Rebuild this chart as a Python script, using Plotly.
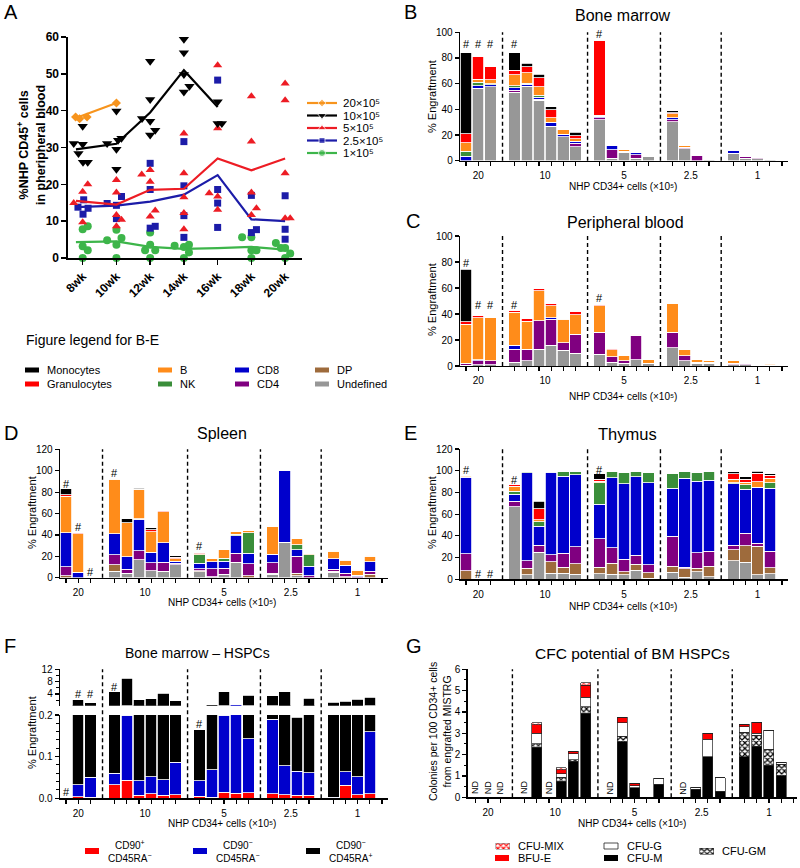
import plotly.graph_objects as go

W, H = 800, 868
FONT = "Liberation Sans, Arial, Helvetica, sans-serif"

# ======================= DATA =======================
# ---- Panel A: %NHP CD45+ in peripheral blood ----
A_WEEKS = [8, 10, 12, 14, 16, 18, 20]
A_WEEK_LABELS = ["8wk", "10wk", "12wk", "14wk", "16wk", "18wk", "20wk"]
A_MEAN_X = [7.6, 10, 12, 14, 16, 18, 20]

A20_WEEK = [8, 8, 8, 10]
A20_VAL = [38.3, 37.8, 38.3, 42.1]
A20_MEAN = [38.0, 42.1]

A10_WEEK = [8] * 6 + [10] * 6 + [12] * 6 + [14] * 5 + [16] * 3
A10_VAL = [31.1, 28.4, 35.8, 30.9, 26.0, 26.0,
           31.1, 39.9, 29.5, 24.1, 32.0, 32.5,
           37.9, 53.4, 43.0, 37.1, 33.4, 34.7,
           59.4, 55.7, 49.8, 45.1, 46.6,
           42.4, 36.5, 36.5]
A10_MEAN = [29.5, 31.0, 39.5, 51.0, 41.0]

A5_WEEK = [8] * 4 + [10] * 5 + [12] * 5 + [14] * 5 + [16] * 5 + [18] * 5 + [20] * 5
A5_VAL = [14.9, 18.0, 20.0, 9.7,
          21.2, 17.8, 11.7, 10.4, 8.6,
          22.7, 23.9, 20.7, 12.9, 11.3,
          33.8, 23.0, 16.5, 12.2, 7.8,
          52.3, 35.2, 17.6, 16.7, 13.1,
          43.9, 31.6, 17.8, 13.5, 11.7,
          47.4, 42.8, 23.0, 10.8, 10.8]
A5_MEAN = [15.5, 14.5, 18.5, 18.8, 27.0, 23.8, 27.0]

A25_WEEK = [8] * 4 + [10] * 4 + [12] * 4 + [14] * 4 + [16] * 4 + [18] * 3 + [20] * 3
A25_VAL = [13.8, 15.8, 11.9, 13.5,
           14.8, 14.3, 16.7, 10.7,
           25.7, 18.6, 8.1, 8.6,
           31.6, 19.6, 11.5, 5.6,
           48.3, 18.6, 14.9, 8.3,
           17.0, 6.9, 7.7,
           16.9, 7.8, 5.1]
A25_MEAN = [13.8, 14.2, 15.3, 17.2, 22.5, 10.5, 10.0]

A1_WEEK = [8] * 5 + [10] * 5 + [12] * 5 + [14] * 5 + [18] * 5 + [20] * 5
A1_VAL = [7.8, 8.6, 3.2, 2.1, 0.0,
          4.8, 7.7, 5.4, 3.6, 0.0,
          6.9, 3.6, 2.1, 2.1, 0.0,
          3.3, 3.0, 3.6, 1.5, 0.0,
          5.6, 5.6, 2.1, 2.1, 0.0,
          4.1, 2.7, 2.7, 1.2, 0.0]
A1_MEAN = [4.3, 4.5, 3.0, 2.5, 2.7, 3.0, 2.3]

# horizontal scatter (style, in weeks) of the dots around each time point
A20_JIT = [-0.42, -0.18, 0.26, 0.0]
A10_JIT = [-0.53, -0.25, 0, 0, 0.02, 0.3, -0.55, 0, 0, 0, 0.1, 0.3,
           -0.48, 0, 0, 0, 0, 0.3, 0, 0, 0, 0, 0.33, 0, 0, 0.25]
A5_JIT = [-0.53, 0, 0.3, 0, 0, 0, 0, 0.3, 0, -0.5, 0, 0, 0.3, 0,
          0, 0, 0, 0, 0, 0, 0, -0.5, 0, 0, 0, 0, 0, 0.3, 0, 0, 0, 0, 0, 0.3]
A25_JIT = [-0.28, 0.06, 0.02, 0.32, -0.55, 0, 0.3, 0, 0, 0, 0, 0.3,
           0, 0, 0, 0, 0, 0, 0, 0, 0, 0, 0.3, 0, 0, 0]
A1_JIT = [0, 0.3, 0, 0.3, 0, -0.55, 0, 0.3, 0, 0, 0, 0, -0.3, 0.3, 0,
          -0.55, 0, 0.3, 0.3, 0, -0.55, 0, 0, 0.3, 0, -0.55, -0.25, 0, 0.3, 0]

# ---- Shared bar-panel categories (slots) ----
BAR_SLOTS = [0, 1, 2, 4, 5, 6, 7, 8, 9, 11, 12, 13, 14, 15, 17, 18, 19, 20, 22, 23, 24, 25]
TICK_SLOTS = BAR_SLOTS + [26]
GROUP_POS = [1, 6.5, 13, 18.5, 24]
GROUP_LABELS = ["20", "10", "5", "2.5", "1"]
DIVIDERS = [3, 10, 16, 21]

CELL_TYPES = ["Undefined", "DP", "CD4", "CD8", "NK", "B", "Granulocytes", "Monocytes"]

# ---- Panel B: Bone marrow ----
B_U = [0, 56.5, 57.5, 53.5, 58, 47, 27, 18.5, 11, 32, 2, 6.5, 2, 3, 30.5, 9.5, 0, 1, 6, 2, 1.5, 1]
B_DP = [0] * 22
B_CD4 = [0, 0, 0, 1.5, 0, 1, 0, 0, 2.5, 1.5, 6.5, 1, 2.5, 0.5, 1.5, 1, 4, 0, 0, 1, 1, 0]
B_CD8 = [3.5, 2, 1.5, 2, 1.5, 1.5, 3, 2, 1.5, 1, 3.5, 0, 2, 0, 1.5, 0, 0, 0, 2, 0, 0, 0]
B_NK = [4, 2.5, 1, 1.5, 1, 1.5, 0, 0, 0, 0, 0, 0, 0, 0, 0, 0, 0, 0, 0, 0, 0, 0]
B_B = [6.5, 2.5, 3, 8.5, 8, 6.5, 3.5, 4, 2, 1, 1, 1.5, 0, 0, 3, 1.5, 0, 0, 0, 0, 0, 0]
B_GR = [7, 18, 10, 3.5, 4.5, 7, 6, 0, 2.5, 58.5, 0, 0, 0, 0, 1, 0, 0, 0, 0, 0, 0, 0]
B_MO = [63, 0, 0, 13.5, 3, 3, 2.5, 0, 2.5, 0, 0, 0, 0, 0, 1.5, 0, 0, 0, 0, 0, 0, 0]
B_HASH_X = [0, 1, 2, 4, 11]
B_HASH_Y = [91, 91, 91, 91, 99]

# ---- Panel C: Peripheral blood ----
C_U = [0.5, 1, 1, 3, 4, 13, 16, 12, 10, 9, 3, 2, 5, 2, 14, 4, 2, 2, 1, 1, 0.5, 0.5]
C_DP = [0] * 22
C_CD4 = [1.5, 3, 3, 10, 9, 22, 20, 6, 14.5, 17, 4, 2, 18.5, 0, 12, 4, 1, 1, 1, 1, 0.5, 0.5]
C_CD8 = [0, 1, 0, 3, 0, 0, 1, 0, 0, 0, 0, 0, 0, 0, 0, 0, 0, 0, 0, 0, 0, 0]
C_NK = [0] * 22
C_B = [30, 32, 33, 25.5, 21.5, 23, 9.5, 18, 15, 20.5, 5.5, 4, 1, 3, 22, 5, 2, 1, 2, 1, 0.5, 1]
C_GR = [2, 1.5, 0.5, 1.5, 2, 1.5, 1.5, 0.3, 2.5, 1, 1, 0, 0.5, 0, 0, 0, 0, 0, 0, 0, 0, 0]
C_MO = [40.5, 0, 0, 0, 0, 0, 0, 0, 0, 0, 0, 0, 0, 0, 0, 0, 0, 0, 0, 0, 0, 0]
C_HASH_X = [0, 1, 2, 4, 11]
C_HASH_Y = [79.5, 46.8, 46.8, 46.8, 52]

# ---- Panel D: Spleen ----
D_U = [0, 0, 0, 6, 4, 17, 6.5, 6, 12, 5.5, 1, 3, 14.5, 0, 3, 33, 2, 0, 5, 0, 0, 0]
D_DP = [2, 0, 0, 6, 0, 0, 0, 0, 0, 1, 0, 0, 0, 2, 1, 0, 2, 0, 1, 1, 0, 3]
D_CD4 = [8, 0, 0, 9.5, 4, 8, 7.5, 8.5, 1.5, 2, 7.5, 6, 8.5, 11, 10, 0, 16, 2, 2, 3, 1, 3]
D_CD8 = [32, 5, 0, 19.5, 11.5, 29.5, 10, 18, 2, 5, 6.5, 6.5, 16, 10, 8, 67, 6, 8.5, 9.5, 7.5, 1.5, 9]
D_NK = [0, 0, 0, 0, 0, 0.5, 0, 0, 0, 8, 0, 2.5, 1.5, 19, 0, 0, 5, 11, 0, 0, 0, 0]
D_B = [34, 36, 0, 51, 32, 27.5, 19, 29, 2, 1, 3, 8, 2.5, 2, 25.5, 0, 6, 1, 7, 5, 4.5, 5]
D_GR = [1.5, 1, 0, 1, 0, 0.5, 2, 1, 1.5, 1, 0, 0, 0, 0, 0.5, 0, 0, 0, 1, 0.5, 1, 1]
D_MO = [5.5, 0, 0, 0, 3.5, 1, 1.5, 0, 1.5, 0, 0, 0, 0, 0, 0, 0, 0, 0, 0, 0, 0, 0]
D_HASH_X = [0, 1, 2, 4, 11]
D_HASH_Y = [88, 47, 5.6, 98, 29.6]

# ---- Panel E: Thymus ----
E_U = [0, 0, 0, 67, 4, 25, 5.5, 5.5, 4.5, 5, 4.5, 4, 8.5, 1, 6.5, 2, 7, 2.5, 17, 15.5, 4, 5]
E_DP = [8, 0, 0, 0, 6, 0, 10.5, 5.5, 10, 6, 10.5, 3, 5.5, 5, 5.5, 7.5, 3, 9.5, 10, 15.5, 26.5, 5.5]
E_CD4 = [15.5, 0, 0, 5, 7, 6.5, 6.5, 13, 15.5, 26.5, 14, 11.5, 8, 7.5, 27.5, 1.5, 14.5, 14, 4.5, 11.5, 2.5, 15.5]
E_CD8 = [70.5, 0, 0, 6.5, 81, 17.5, 76, 71, 66.5, 31.5, 64.5, 69.5, 72.5, 75.5, 44.5, 82, 66, 65, 56.5, 40.5, 52, 58]
E_NK = [0.5, 0, 0, 2.5, 1.5, 4, 1, 4.5, 2.5, 20, 5.5, 10, 5, 9.5, 13, 6.5, 8, 8, 1, 4, 0, 5]
E_B = [1.5, 0, 0, 4.5, 0, 2, 0, 0, 0.5, 1.5, 0, 0, 0, 0, 0.5, 0, 0, 0, 3, 2.5, 5, 4]
E_GR = [0, 0, 0, 1.5, 0, 10, 0, 0, 0, 1.5, 0, 0, 0, 0, 0.5, 0, 1, 0, 5, 2.5, 7.5, 3]
E_MO = [0, 0, 0, 0, 0, 7, 0, 0, 0, 5, 0, 0, 0, 0, 0, 0, 0, 0, 2, 2.5, 2, 1]
E_HASH_X = [0, 1, 2, 4, 11]
E_HASH_Y = [100.3, 4.9, 4.9, 91.7, 100.3]

# ---- Panel F: Bone marrow HSPCs ----
F_RED = [0, 0.004, 0.003, 0.032, 0.043, 0.007, 0.011, 0.007, 0.009, 0.005, 0.002,
         0.014, 0.012, 0.013, 0.011, 0.009, 0.007, 0.007, 0, 0.031, 0.008, 0.011]
F_BLUE = [0, 0.029, 0.047, 0.028, 0.157, 0.035, 0.041, 0.038, 0.078, 0.037, 0.066,
          0.186, 0.588, 0.13, 0.179, 0.069, 0.058, 0.054, 0.002, 0.033, 0.044, 0.149]
F_BLACK = [0, 2.017, 1.14, 4.70, 8.88, 2.008, 2.44, 4.155, 1.643, 0.123, 0.432,
           4.56, 0, 3.427, 3.16, 4.68, 0.13, 2.54, 1.298, 1.536, 2.218, 2.74]
F_LOW_HASH_X = [0, 11]
F_LOW_HASH_Y = [0.016, 0.178]
F_UP_HASH_X = [1, 2, 4]
F_UP_HASH_Y = [4.0, 4.0, 6.4]

# ---- Panel G: CFC potential ----
G_M = [0, 0, 0, 0, 2.35, 0, 0.75, 1.7, 3.95, 0, 2.6, 0.45, 0, 0.6, 0, 0.38, 1.9, 0.28, 1.9, 2.4, 1.5, 1.0]
G_GM = [0, 0, 0, 0, 0.15, 0, 0.2, 0.05, 0.3, 0, 0.25, 0, 0, 0, 0, 0, 0, 0, 1.15, 0.5, 0.75, 0.55]
G_G = [0, 0, 0, 0, 0.5, 0, 0.15, 0.3, 0.45, 0, 0.65, 0.1, 0, 0.3, 0, 0.1, 0.82, 0.64, 0.25, 0.1, 0.9, 0.1]
G_BFUE = [0, 0, 0, 0, 0.4, 0, 0.2, 0.1, 0.55, 0, 0.25, 0.1, 0, 0, 0, 0, 0.28, 0, 0.12, 0.52, 0, 0]
G_MIX = [0, 0, 0, 0, 0.1, 0, 0.08, 0, 0.11, 0, 0, 0, 0, 0, 0, 0, 0, 0, 0, 0, 0, 0]
G_ND_SLOTS = [0, 1, 2, 4, 6, 11, 17]

# ======================= STYLE =======================
CELL_COLORS = ["#979797", "#9E6B3C", "#800080", "#0000CC", "#3A8E3A", "#FF8C1A", "#FF0000", "#000000"]
A_COLORS = {"20": "#F7941D", "10": "#000000", "5": "#ED1C24", "2.5": "#1C1CA8", "1": "#3DB54A"}


def fx(x):
    return x / W


def fy(y):
    return 1 - y / H


fig = go.Figure()

# ---------------- Panel A traces ----------------
a_series = [
    ("20", A20_WEEK, A20_VAL, A20_JIT, A20_MEAN, "diamond", 7),
    ("10", A10_WEEK, A10_VAL, A10_JIT, A10_MEAN, "triangle-down", 9),
    ("5", A5_WEEK, A5_VAL, A5_JIT, A5_MEAN, "triangle-up", 8),
    ("2.5", A25_WEEK, A25_VAL, A25_JIT, A25_MEAN, "square", 7),
    ("1", A1_WEEK, A1_VAL, A1_JIT, A1_MEAN, "circle", 8),
]
for key, wk, val, jit, mean, sym, size in reversed(a_series):
    col = A_COLORS[key]
    fig.add_trace(go.Scatter(x=A_MEAN_X[:len(mean)], y=mean, mode="lines", xaxis="x", yaxis="y",
                             line=dict(color=col, width=2.2), showlegend=False, hoverinfo="skip"))
    fig.add_trace(go.Scatter(x=[w + j for w, j in zip(wk, jit)], y=val, mode="markers", xaxis="x", yaxis="y",
                             marker=dict(symbol=sym, size=size, color=col, line=dict(width=0)),
                             cliponaxis=False, showlegend=False, hoverinfo="skip"))


# ---------------- stacked bars helper ----------------
def add_stack(arrays, xa, ya):
    for vals, col in zip(arrays, CELL_COLORS):
        fig.add_trace(go.Bar(x=BAR_SLOTS, y=vals, xaxis=xa, yaxis=ya, width=0.95,
                             marker=dict(color=col, line=dict(color="white", width=0.8)),
                             showlegend=False, hoverinfo="skip"))


add_stack([B_U, B_DP, B_CD4, B_CD8, B_NK, B_B, B_GR, B_MO], "x2", "y2")
add_stack([C_U, C_DP, C_CD4, C_CD8, C_NK, C_B, C_GR, C_MO], "x3", "y3")
add_stack([D_U, D_DP, D_CD4, D_CD8, D_NK, D_B, D_GR, D_MO], "x4", "y4")
add_stack([E_U, E_DP, E_CD4, E_CD8, E_NK, E_B, E_GR, E_MO], "x5", "y5")

# ---------------- Panel F (broken axis) ----------------
F_COLORS = ["#FF0000", "#0000CC", "#000000"]
for ya in ["y6", "y7"]:
    for vals, col in zip([F_RED, F_BLUE, F_BLACK], F_COLORS):
        fig.add_trace(go.Bar(x=BAR_SLOTS, y=vals, xaxis="x6", yaxis=ya, width=0.95,
                             marker=dict(color=col, line=dict(color="white", width=0.8)),
                             showlegend=False, hoverinfo="skip"))

# ---------------- Panel G ----------------
g_specs = [
    (G_M, dict(color="#000000")),
    (G_GM, dict(color="white", pattern=dict(shape="x", fgcolor="black", bgcolor="white", size=4, solidity=0.5))),
    (G_G, dict(color="white")),
    (G_BFUE, dict(color="#FF0000")),
    (G_MIX, dict(color="white", pattern=dict(shape="x", fgcolor="#FF0000", bgcolor="white", size=4, solidity=0.5))),
]
for vals, mk in g_specs:
    mk = dict(mk)
    mk["line"] = dict(color="#222222", width=0.7)
    fig.add_trace(go.Bar(x=BAR_SLOTS, y=vals, xaxis="x8", yaxis="y8", width=0.82,
                         marker=mk, showlegend=False, hoverinfo="skip"))

# ---------------- Legends (overlay pixel axis) ----------------
A_LEG_ROWS = [103, 115.5, 128, 140.5, 153]
for (key, wk, val, jit, mean, sym, size), yy in zip(a_series, A_LEG_ROWS):
    col = A_COLORS[key]
    fig.add_trace(go.Scatter(x=[307, 322, 337], y=[yy, yy, yy], mode="lines+markers", xaxis="x9", yaxis="y9",
                             line=dict(color=col, width=2.2),
                             marker=dict(symbol=sym, size=[0, size - 1, 0], color=col),
                             showlegend=False, hoverinfo="skip"))

# patterned legend swatches for G
fig.add_trace(go.Bar(x=[502.5], y=[6], base=[843], width=[14], xaxis="x9", yaxis="y9",
                     marker=dict(color="white", line=dict(color="#888", width=0.6),
                                 pattern=dict(shape="x", fgcolor="#FF0000", bgcolor="white", size=4, solidity=0.5)),
                     showlegend=False, hoverinfo="skip"))
fig.add_trace(go.Bar(x=[706.5], y=[6], base=[848], width=[14], xaxis="x9", yaxis="y9",
                     marker=dict(color="white", line=dict(color="#333", width=0.6),
                                 pattern=dict(shape="x", fgcolor="black", bgcolor="white", size=4, solidity=0.5)),
                     showlegend=False, hoverinfo="skip"))

shapes = []
annotations = []


def rect(x0, y0, x1, y1, fill, line=None):
    shapes.append(dict(type="rect", xref="paper", yref="paper", x0=fx(x0), x1=fx(x1), y0=fy(y1), y1=fy(y0),
                       fillcolor=fill, line=dict(color=line or fill, width=0.8 if line else 0)))


def text(x, y, s, size=10, xanchor="center", yanchor="middle", angle=0, weight="normal"):
    annotations.append(dict(x=fx(x), y=fy(y), xref="paper", yref="paper", text=s, showarrow=False,
                            xanchor=xanchor, yanchor=yanchor, textangle=angle, borderpad=0,
                            font=dict(family=FONT, size=size, color="black", weight=weight)))


# A legend labels
for (key, *_), yy in zip(a_series, A_LEG_ROWS):
    text(342, yy, key + "×10⁵", size=11.5, xanchor="left")

# B-E legend
text(25, 340, "Figure legend for B-E", size=14, xanchor="left")
be_leg = [("Monocytes", 7, 25, 370), ("Granulocytes", 6, 25, 384), ("B", 5, 158, 370), ("NK", 4, 158, 384),
          ("CD8", 3, 235, 370), ("CD4", 2, 235, 384), ("DP", 1, 315, 370), ("Undefined", 0, 315, 384)]
for name, ci, x0, yy in be_leg:
    rect(x0, yy - 2.5, x0 + 14, yy + 2.5, CELL_COLORS[ci])
    text(x0 + 21, yy, name, size=11, xanchor="left")

# F legend
for x0, col, lab in [(85, "#FF0000", "CD90<sup>+</sup><br>CD45RA<sup>−</sup>"),
                     (193, "#0000CC", "CD90<sup>−</sup><br>CD45RA<sup>−</sup>"),
                     (306, "#000000", "CD90<sup>−</sup><br>CD45RA<sup>+</sup>")]:
    rect(x0, 848, x0 + 14, 854, col)
    text(x0 + 22, 851, lab, size=10, xanchor="left")

# G legend
rect(495, 855, 509, 861, "#FF0000")
rect(604, 843, 618, 849, "white", line="#222")
rect(604, 855, 618, 861, "#000000")
text(517, 846, "CFU-MIX", size=11, xanchor="left")
text(517, 858, "BFU-E", size=11, xanchor="left")
text(626, 846, "CFU-G", size=11, xanchor="left")
text(626, 858, "CFU-M", size=11, xanchor="left")
text(721, 851, "CFU-GM", size=11, xanchor="left")

# panel letters
for lab, x, y in [("A", 3, 12), ("B", 403, 12), ("C", 405, 221), ("D", 3, 433), ("E", 403, 433),
                  ("F", 3, 646), ("G", 405, 646)]:
    text(x, y, lab, size=20, xanchor="left")

# titles
text(623, 15.5, "Bone marrow", size=16)
text(625, 222, "Peripheral blood", size=16)
text(222, 433, "Spleen", size=16)
text(627, 434, "Thymus", size=16.5)
text(197, 653, "Bone marrow – HSPCs", size=14)
text(632, 653, "CFC potential of BM HSPCs", size=15.5)

# axis titles
text(31, 145, "%NHP CD45<sup>+</sup> cells<br>in pheripheral blood", size=12.5, angle=-90, weight="bold")
for x, y in [(432, 97), (432, 300), (32, 513), (432, 513), (32, 733)]:
    text(x, y, "% Engraftment", size=11, angle=-90)
text(440, 732, "Colonies per 100 CD34+ cells<br>from engrafted MISTRG", size=10.5, angle=-90)
XT = "NHP CD34+ cells (×10⁵)"
for x, y in [(623, 186.5), (623, 396), (222, 602.5), (623, 606), (222, 823), (632, 823)]:
    text(x, y, XT, size=10)


# hash marks
def hashes(xs, ys, xref, yref):
    for x, y in zip(xs, ys):
        annotations.append(dict(x=x, y=y, xref=xref, yref=yref, text="#", showarrow=False,
                                xanchor="center", yanchor="middle", borderpad=0,
                                font=dict(family=FONT, size=11, color="black")))


hashes(B_HASH_X, B_HASH_Y, "x2", "y2")
hashes(C_HASH_X, C_HASH_Y, "x3", "y3")
hashes(D_HASH_X, D_HASH_Y, "x4", "y4")
hashes(E_HASH_X, E_HASH_Y, "x5", "y5")
hashes(F_LOW_HASH_X, F_LOW_HASH_Y, "x6", "y6")
hashes(F_UP_HASH_X, F_UP_HASH_Y, "x6", "y7")

for s in G_ND_SLOTS:
    annotations.append(dict(x=s, y=0, xref="x8", yref="y8", text="ND", showarrow=False, textangle=-90,
                            xanchor="center", yanchor="bottom", yshift=2, borderpad=0,
                            font=dict(family=FONT, size=9, color="black")))

# dashed dividers
DASH = dict(color="black", width=1.4, dash="4px,3px")
for xa, ya in [("x2", "y2"), ("x3", "y3"), ("x4", "y4"), ("x5", "y5"), ("x8", "y8")]:
    for d in DIVIDERS:
        shapes.append(dict(type="line", xref=xa, yref=ya + " domain", x0=d, x1=d, y0=0, y1=1, line=DASH))
for d in DIVIDERS:
    shapes.append(dict(type="line", xref="x6", yref="paper", x0=d, x1=d, y0=fy(798.3), y1=fy(669.3), line=DASH))

# ======================= AXES =======================
AX = dict(showline=True, linecolor="black", linewidth=1.3, showgrid=False, zeroline=False,
          ticks="outside", ticklen=4, tickwidth=1.2, tickcolor="black", fixedrange=True, automargin=False)
TF = dict(family=FONT, size=10, color="black")


def slot_x(x0, x1, anchor, rng=(-0.5, 26.5)):
    d = dict(AX)
    d.update(domain=[fx(x0), fx(x1)], anchor=anchor, range=list(rng), tickmode="array",
             tickvals=GROUP_POS, ticktext=GROUP_LABELS, ticklen=5, tickcolor="rgba(0,0,0,0)",
             minor=dict(tickmode="array", tickvals=TICK_SLOTS, ticks="outside", ticklen=4,
                        tickwidth=1.2, tickcolor="black"),
             tickfont=TF)
    return d


def val_y(y0, y1, anchor, rng, dtick=None, tickvals=None, ticktext=None, minor=None):
    d = dict(AX)
    d.update(domain=[fy(y1), fy(y0)], anchor=anchor, range=list(rng), tickfont=TF)
    if tickvals is not None:
        d.update(tickmode="array", tickvals=tickvals, ticktext=ticktext)
    else:
        d.update(dtick=dtick)
    if minor:
        d["minor"] = minor
    return d


xa = dict(AX)
xa.update(domain=[fx(68), fx(302)], anchor="y", range=[7.13, 21.0], tickmode="array",
          tickvals=A_WEEKS, ticktext=A_WEEK_LABELS, tickangle=-45, ticklen=5, linewidth=1.6, tickwidth=1.6,
          tickfont=dict(family=FONT, size=12, color="black", weight="bold"))
ya = dict(AX)
ya.update(domain=[fy(258), fy(37)], anchor="x", range=[0, 60], dtick=10, ticklen=5, linewidth=1.6,
          tickwidth=1.6, tickfont=dict(family=FONT, size=12, color="black", weight="bold"))

layout = dict(
    template="none",
    width=W, height=H, margin=dict(l=0, r=0, t=0, b=0, pad=0), paper_bgcolor="white",
    plot_bgcolor="rgba(0,0,0,0)",
    barmode="stack", showlegend=False, hovermode=False,
    xaxis=xa, yaxis=ya,
    xaxis2=slot_x(460, 788, "y2"), yaxis2=val_y(32.3, 160.7, "x2", (0, 100), dtick=20),
    xaxis3=slot_x(460, 788, "y3"), yaxis3=val_y(236, 366, "x3", (0, 100), dtick=20),
    xaxis4=slot_x(60, 388, "y4"), yaxis4=val_y(449.3, 577.7, "x4", (0, 120), dtick=20),
    xaxis5=slot_x(460, 788, "y5"), yaxis5=val_y(449, 579.3, "x5", (0, 120), dtick=20),
    xaxis6=slot_x(60, 388, "y6"),
    yaxis6=val_y(715, 798.3, "x6", (0, 0.2), tickvals=[0, 0.1, 0.2], ticktext=["0.0", "0.1", "0.2"],
                 minor=dict(tickmode="array", tickvals=[0.02, 0.04, 0.06, 0.08, 0.12, 0.14, 0.16, 0.18],
                            ticks="outside", ticklen=2.5, tickwidth=1, tickcolor="black")),
    yaxis7=val_y(669.3, 705.7, "x6", (0.2, 12), tickvals=[4, 8, 12], ticktext=["4", "8", "12"],
                 minor=dict(tickmode="array", tickvals=[2, 6, 10], ticks="outside", ticklen=2.5,
                            tickwidth=1, tickcolor="black")),
    xaxis8=slot_x(467.7, 797, "y8", rng=(-0.66, 26.3)),
    yaxis8=val_y(669.3, 797.3, "x8", (0, 6), dtick=1,
                 minor=dict(dtick=0.5, ticks="outside", ticklen=2.5, tickwidth=1, tickcolor="black")),
    xaxis9=dict(domain=[0, 1], range=[0, W], visible=False, anchor="y9", fixedrange=True, automargin=False),
    yaxis9=dict(domain=[0, 1], range=[H, 0], visible=False, anchor="x9", fixedrange=True, automargin=False),
    shapes=shapes, annotations=annotations,
    font=dict(family=FONT, color="black"),
)
fig.update_layout(**layout)
fig.write_html("out.html", config={"displayModeBar": False, "staticPlot": True},
               post_script="document.body.style.margin='0px';document.body.style.overflow='hidden';")
